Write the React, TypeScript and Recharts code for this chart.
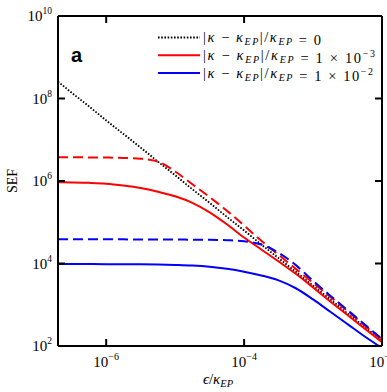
import React from "react";
import { LineChart, Line, XAxis, YAxis, ReferenceLine } from "recharts";

// ---- data (log10 values) ----
const EPS_LOG = [
  -6.699, -6.5, -6.25, -6.0, -5.75, -5.5, -5.25, -5.0, -4.75, -4.5,
  -4.25, -4.0, -3.75, -3.5, -3.25, -3.0, -2.75, -2.5, -2.25, -2.0,
];
// |κ-κEP|/κEP = 0 (dotted black)
const SEF_EP_LOG = [
  8.41, 8.14, 7.81, 7.47, 7.14, 6.81, 6.47, 6.14, 5.8, 5.47,
  5.13, 4.8, 4.46, 4.13, 3.8, 3.46, 3.13, 2.79, 2.46, 2.12,
];
// 1e-3, solid red
const SEF_R3_LOG = [
  5.97, 5.965, 5.955, 5.935, 5.89, 5.83, 5.74, 5.63, 5.47, 5.24,
  4.95, 4.63, 4.34, 4.05, 3.75, 3.42, 3.08, 2.75, 2.42, 2.09,
];
// 1e-3, dashed red
const SEF_R3_APPROX_LOG = [
  6.575, 6.575, 6.572, 6.568, 6.56, 6.54, 6.47, 6.23, 5.92, 5.61,
  5.28, 4.92, 4.55, 4.21, 3.87, 3.53, 3.19, 2.85, 2.5, 2.16,
];
// 1e-2, solid blue
const SEF_R2_LOG = [
  3.985, 3.985, 3.985, 3.984, 3.982, 3.98, 3.975, 3.965, 3.95, 3.92,
  3.87, 3.8, 3.71, 3.59, 3.4, 3.13, 2.83, 2.53, 2.23, 1.95,
];
// 1e-2, dashed blue
const SEF_R2_APPROX_LOG = [
  4.585, 4.585, 4.585, 4.585, 4.585, 4.583, 4.582, 4.58, 4.578, 4.575,
  4.565, 4.54, 4.46, 4.26, 3.96, 3.58, 3.22, 2.87, 2.52, 2.17,
];

const X_TICKS = [1e-6, 1e-4, 1e-2];
const Y_TICKS = [1e2, 1e4, 1e6, 1e8, 1e10];
const X_DOMAIN = [2e-7, 1e-2];
const Y_DOMAIN = [1e2, 1e10];

const data = EPS_LOG.map((e, i) => ({
  x: Math.pow(10, e),
  ep: Math.pow(10, SEF_EP_LOG[i]),
  r3: Math.pow(10, SEF_R3_LOG[i]),
  r3a: Math.pow(10, SEF_R3_APPROX_LOG[i]),
  r2: Math.pow(10, SEF_R2_LOG[i]),
  r2a: Math.pow(10, SEF_R2_APPROX_LOG[i]),
}));

// ---- layout ----
const W = 387;
const H = 392;
const PL = 58;
const PR = 382;
const PT = 16;
const PB = 346;
const TICK = 7;
const SERIF = "'Liberation Serif', 'Times New Roman', serif";

const expText = (v: number) => {
  const e = Math.round(Math.log10(v));
  return e < 0 ? "\u2212" + String(-e) : String(e);
};

const XTick = (props: any) => {
  const { x, payload } = props;
  return (
    <g>
      <line x1={x} x2={x} y1={PB} y2={PB - TICK} stroke="#000" strokeWidth={2} />
      <line x1={x} x2={x} y1={PT} y2={PT + TICK} stroke="#000" strokeWidth={2} />
      <text x={x} y={367} textAnchor="middle" fontFamily={SERIF} fontSize={15} fill="#000">
        10
        <tspan dy={-7} fontSize={10}>{expText(payload.value)}</tspan>
      </text>
    </g>
  );
};

const YTick = (props: any) => {
  const { y, payload } = props;
  return (
    <g>
      <line x1={PL} x2={PL + TICK} y1={y} y2={y} stroke="#000" strokeWidth={2} />
      <line x1={PR} x2={PR - TICK} y1={y} y2={y} stroke="#000" strokeWidth={2} />
      <text x={52} y={y + 5} textAnchor="end" fontFamily={SERIF} fontSize={15} fill="#000">
        10
        <tspan dy={-7} fontSize={9.5}>{expText(payload.value)}</tspan>
      </text>
    </g>
  );
};

const SERIES = [
  { key: "ep", color: "#000000", dash: "1.6 1.6", width: 1.8, legend: "0", legendWidth: 118 },
  { key: "r3", color: "#ff0000", dash: undefined, width: 2, legend: "1e-3", legendWidth: 172 },
  { key: "r3a", color: "#ff0000", dash: "10 5", width: 2, legend: null, legendWidth: 0 },
  { key: "r2", color: "#0000ff", dash: undefined, width: 2, legend: "1e-2", legendWidth: 170 },
  { key: "r2a", color: "#0000ff", dash: "10 5", width: 2, legend: null, legendWidth: 0 },
];

const LegendLabel = ({ x, y, value, len }: { x: number; y: number; value: string; len: number }) => {
  const sub = { fontSize: 10, fontStyle: "italic" as const };
  let rhs: React.ReactNode;
  if (value === "0") {
    rhs = <tspan> = 0</tspan>;
  } else {
    const e = value.split("e")[1].replace("-", "\u2212");
    rhs = (
      <>
        <tspan> = 1 × 10</tspan>
        <tspan dy={-6} fontSize={10}>{e}</tspan>
      </>
    );
  }
  return (
    <text x={x} y={y} fontFamily={SERIF} fontSize={14.5} fill="#000" textLength={len} lengthAdjust="spacing">
      <tspan>|</tspan>
      <tspan fontStyle="italic">κ</tspan>
      <tspan> − </tspan>
      <tspan fontStyle="italic">κ</tspan>
      <tspan dy={3} {...sub}>EP</tspan>
      <tspan dy={-3}>|/</tspan>
      <tspan fontStyle="italic">κ</tspan>
      <tspan dy={3} {...sub}>EP</tspan>
      <tspan dy={-3}></tspan>
      {rhs}
    </text>
  );
};

export default function App() {
  const legendRows = SERIES.filter((s) => s.legend !== null);
  return (
    <div style={{ position: "absolute", left: 0, top: 0, width: W, height: H, background: "#fff" }}>
      <LineChart
        width={W}
        height={H}
        data={data}
        margin={{ top: PT, right: W - PR, bottom: 16, left: 0 }}
      >
        <XAxis
          dataKey="x"
          type="number"
          scale="log"
          domain={X_DOMAIN}
          allowDataOverflow
          ticks={X_TICKS}
          height={30}
          tickLine={false}
          axisLine={{ stroke: "#000", strokeWidth: 2 }}
          tick={(p: any) => <XTick {...p} />}
          interval={0}
        />
        <YAxis
          type="number"
          scale="log"
          domain={Y_DOMAIN}
          allowDataOverflow
          ticks={Y_TICKS}
          width={PL}
          tickLine={false}
          axisLine={{ stroke: "#000", strokeWidth: 2 }}
          tick={(p: any) => <YTick {...p} />}
          interval={0}
        />
        {SERIES.map((s) => (
          <Line
            key={s.key}
            dataKey={s.key}
            type="monotone"
            stroke={s.color}
            strokeWidth={s.width}
            strokeDasharray={s.dash}
            dot={false}
            activeDot={false}
            isAnimationActive={false}
          />
        ))}
        <ReferenceLine y={1e10} stroke="#000" strokeWidth={2} />
        <ReferenceLine x={1e-2} stroke="#000" strokeWidth={2} />
      </LineChart>
      <svg
        width={W}
        height={H}
        style={{ position: "absolute", left: 0, top: 0, pointerEvents: "none" }}
      >
        <text x={71} y={62} fontFamily="'Liberation Sans', Arial, sans-serif" fontWeight="bold" fontSize={20} fill="#000">
          a
        </text>
        {legendRows.map((s, i) => {
          const y = 37.5 + i * 17.8;
          return (
            <g key={s.key}>
              <line x1={158} x2={200} y1={y} y2={y} stroke={s.color} strokeWidth={s.width} strokeDasharray={s.dash} />
              <LegendLabel x={203} y={y + 4.5} value={s.legend as string} len={s.legendWidth} />
            </g>
          );
        })}
        <text
          x={17}
          y={181}
          transform="rotate(-90 17 181)"
          textAnchor="middle"
          fontFamily={SERIF}
          fontSize={14}
          fill="#000"
        >
          SEF
        </text>
        <text x={218} y={383.5} textAnchor="middle" fontFamily={SERIF} fontSize={15} fill="#000">
          <tspan fontStyle="italic">ϵ</tspan>
          <tspan>/</tspan>
          <tspan fontStyle="italic">κ</tspan>
          <tspan dy={3} fontSize={10.5} fontStyle="italic">EP</tspan>
        </text>
      </svg>
    </div>
  );
}
